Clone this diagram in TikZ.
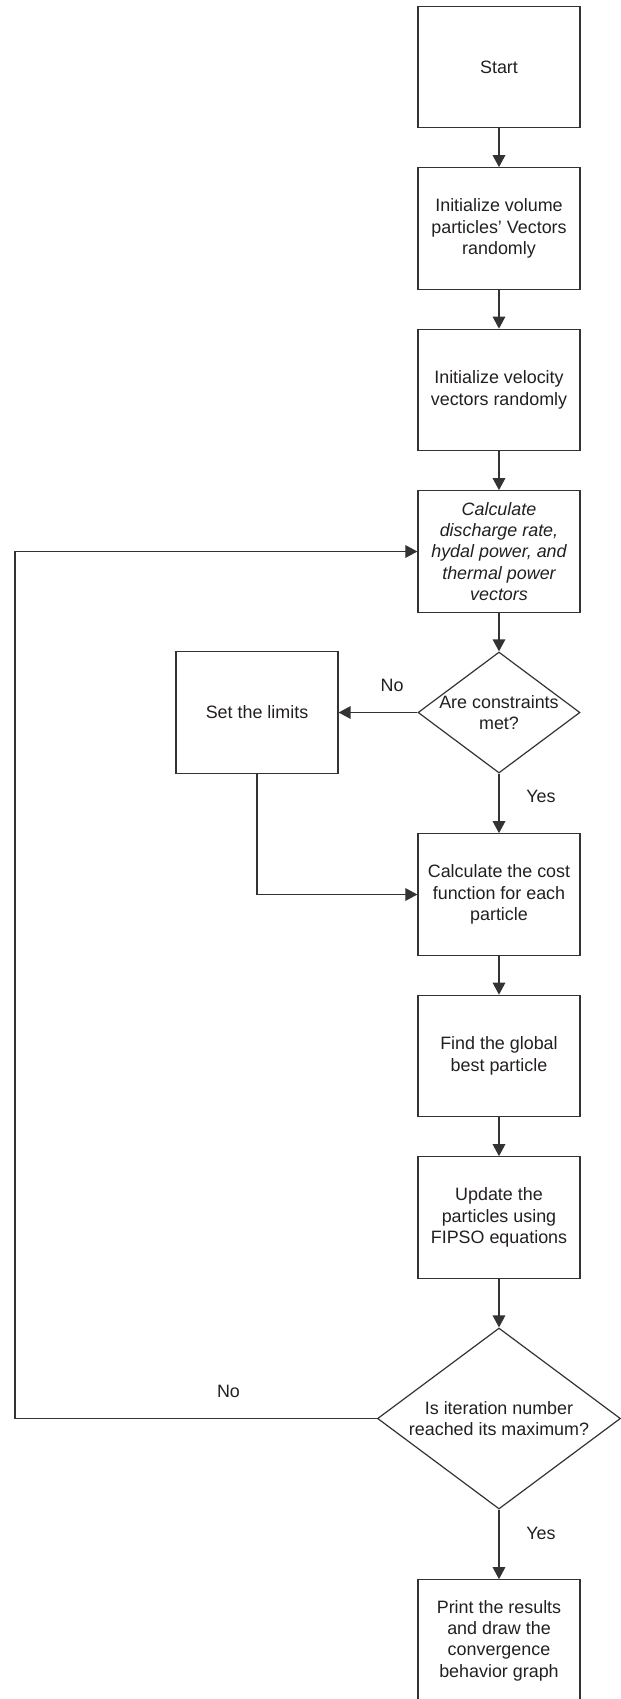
\documentclass[tikz,border=0pt]{standalone}
\usepackage{fontspec}
\setmainfont{Liberation Sans}
\usetikzlibrary{positioning,shapes.geometric,arrows.meta}
\definecolor{linegray}{HTML}{333333}
\definecolor{textgray}{HTML}{231F20}
\newcommand\boxfont{\fontsize{8.95}{10.65}\selectfont}

\begin{document}
\begin{tikzpicture}[node distance=80.75pt,
    box/.style={draw=linegray, line width=0.6pt, minimum width=81pt,
        minimum height=60.75pt, align=center, inner sep=2pt},
    decision/.style={diamond, draw=linegray, line width=0.6pt,
        align=center, inner sep=-1.5pt},
    arr/.style={-{Triangle[length=6pt,width=6.3pt]}, draw=linegray,
        line width=0.6pt},
    every node/.append style={text=textgray, font=\boxfont}]
    \useasboundingbox (-249.5pt,33.5pt) rectangle (61pt,-816pt);
    \node[box] (S) {Start};
    \node[box] (V) [below of=S] {Initialize volume\\particles’ Vectors\\randomly};
    \node[box] (W) [below of=V] {Initialize velocity\\vectors randomly};
    \node[box, font=\boxfont\itshape] (C) [below of=W]
        {Calculate\\discharge rate,\\hydal power, and\\thermal power\\vectors};
    \node[decision, minimum width=81pt, minimum height=60.5pt, aspect=1.34]
        (Q1) [node distance=80.5pt, below of=C] {Are constraints\\met?};
    \node[box] (L) [node distance=121pt, left of=Q1] {Set the limits};
    \node[box] (F) [node distance=91pt, below of=Q1]
        {Calculate the cost\\function for each\\particle};
    \node[box] (G) [below of=F] {Find the global\\best particle};
    \node[box] (U) [below of=G] {Update the\\particles using\\FIPSO equations};
    \node[decision, minimum width=121.5pt, minimum height=90.5pt, aspect=1.34]
        (Q2) [node distance=100.5pt, below of=U]
        {Is iteration number\\reached its maximum?};
    \node[box] (P) [node distance=111pt, below of=Q2]
        {Print the results\\and draw the\\convergence\\behavior graph};
    \coordinate (E) at (-242pt,0);
    \draw[arr] (S) to (V);
    \draw[arr] (V) to (W);
    \draw[arr] (W) to (C);
    \draw[arr] (C) to (Q1);
    \draw[arr] (Q1) to node[above=7pt, pos=0.32] {No} (L);
    \draw[arr] (Q1) to node[right=10pt, pos=0.38] {Yes} (F);
    \draw[arr] (L) |- (F);
    \draw[arr] (F) to (G);
    \draw[arr] (G) to (U);
    \draw[arr] (U) to (Q2);
    \draw[arr] (Q2) to node[right=10pt, pos=0.34] {Yes} (P);
    \draw[arr] (Q2.west) -- node[above=7pt, pos=0.41] {No}
        (Q2.west -| E) |- (C.west);
\end{tikzpicture}
\end{document}
